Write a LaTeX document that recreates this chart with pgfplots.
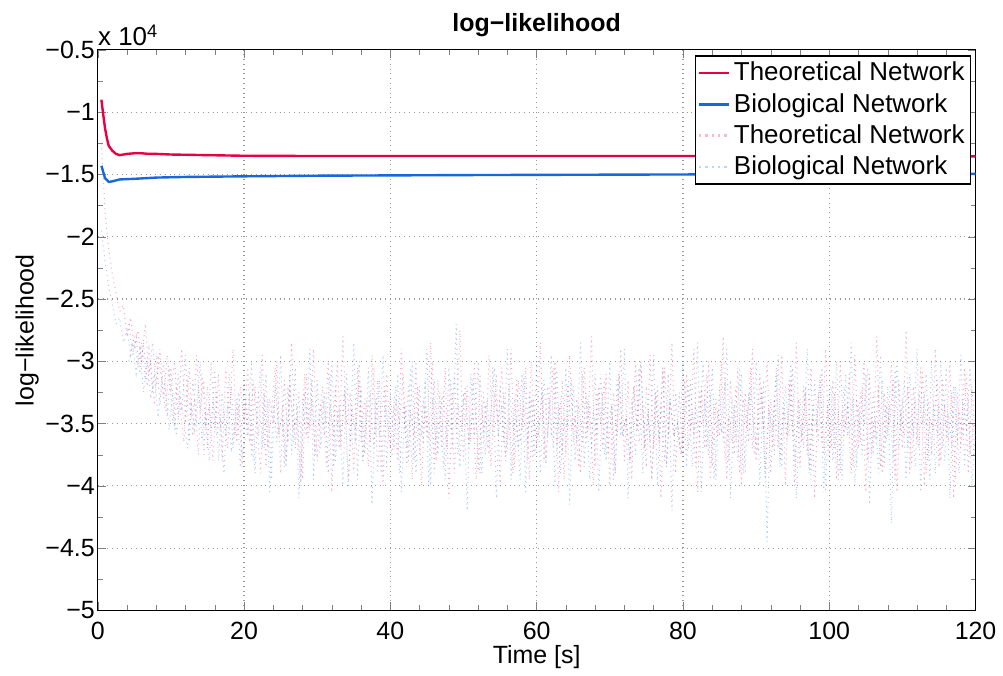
\documentclass[border=0pt]{standalone}
\usepackage{fontspec}
\setmainfont{Liberation Sans}
\usepackage{pgfplots}
\pgfplotsset{compat=1.18}

\definecolor{thred}{RGB}{232,0,68}
\definecolor{bioblue}{RGB}{22,104,220}
\definecolor{thnoise}{RGB}{240,60,110}
\definecolor{bionoise}{RGB}{70,135,235}
\newcommand{\f}{\fontsize{13}{15.5}\selectfont}
\newcommand{\tf}{\fontsize{12.5}{15}\selectfont}

\begin{document}
\begin{tikzpicture}
\begin{axis}[
    at={(0,0)}, anchor=south west,
    scale only axis,
    width=440pt, height=281pt,
    xmin=0, xmax=120, ymin=-5, ymax=-0.5,
    clip mode=individual,
    xtick={0,20,...,120},
    ytick={-5,-4.5,-4,-3.5,-3,-2.5,-2,-1.5,-1,-0.5},
    yticklabels={−5,−4.5,−4,−3.5,−3,−2.5,−2,−1.5,−1,−0.5},
    minor x tick num=4,
    minor y tick num=1,
    tick align=inside,
    major tick length=4pt,
    minor tick length=2.5pt,
    grid=major,
    major grid style={dotted, gray!80, line width=0.6pt},
    axis line style={line width=0.6pt},
    /pgf/number format/assume math mode=true,
    tick label style={font=\tf},
    xticklabel style={yshift=-2.5pt},
    yticklabel style={xshift=2pt},
    label style={font=\tf},
    xlabel={Time [s]},
    ylabel={log−likelihood},
    xlabel style={yshift=4pt},
    ylabel style={yshift=-3.5pt},
    title={\textbf{log−likelihood}},
    title style={font=\tf, yshift=-3pt},
    legend style={at={(0.995,0.99)}, anchor=north east, draw=black,
      font=\f, inner sep=1pt, row sep=0.8pt, cells={anchor=west},
      line width=0.6pt},
    legend image post style={line width=1.2pt},
    legend image code/.code={\draw[#1] (0pt,0pt) -- (15pt,0pt);},
]
% noisy samples, theoretical
\addplot[thnoise, opacity=0.45, dotted, line width=0.5pt, forget plot] coordinates {
(0.5,-1.25) (1,-1.8) (1.5,-2.1) (2,-2.3) (2.5,-2.45) (3,-2.6) (3.5,-2.55) (4,-2.8) (4.5,-2.65) (5,-2.9)
(5.5,-2.75) (6,-3.0) (6.5,-2.7) (7,-3.1) (7.5,-2.85) (8,-3.2) (8.5,-2.9) (9,-3.3) (9.5,-2.95) (10,-3.25)
(10.5,-3.0) (11,-3.45) (11.5,-2.9) (12,-3.5) (12.5,-3.05) (13,-3.6) (13.5,-2.95) (14,-3.4) (14.5,-3.15) (15,-3.7)
(15.5,-3.0) (16,-3.55) (16.5,-3.1) (17,-3.8) (17.5,-3.05) (18,-3.45) (18.5,-2.9) (19,-3.65) (19.5,-3.2) (20,-3.5)
(20.5,-3.05) (21,-3.75) (21.5,-3.2) (22,-3.6) (22.5,-2.95) (23,-3.85) (23.5,-3.3) (24,-3.5) (24.5,-3.0) (25,-3.9)
(25.5,-3.15) (26,-3.65) (26.5,-2.85) (27,-3.7) (27.5,-3.25) (28,-3.95) (28.5,-3.1) (29,-3.55) (29.5,-2.9) (30,-3.8)
(30.5,-3.35) (31,-3.6) (31.5,-3.0) (32,-4.05) (32.5,-3.2) (33,-3.7) (33.5,-2.8) (34,-3.5) (34.5,-3.25) (35,-3.9)
(35.5,-3.05) (36,-3.65) (36.5,-3.3) (37,-3.85) (37.5,-2.95) (38,-3.6) (38.5,-3.15) (39,-4.0) (39.5,-3.1) (40,-3.7)
(40.5,-3.35) (41,-3.8) (41.5,-2.9) (42,-3.55) (42.5,-3.2) (43,-3.95) (43.5,-3.0) (44,-3.75) (44.5,-3.3) (45,-3.6)
(45.5,-2.85) (46,-3.9) (46.5,-3.15) (47,-3.7) (47.5,-3.05) (48,-4.1) (48.5,-3.25) (49,-3.55) (49.5,-2.75) (50,-3.8)
(50.5,-3.2) (51,-3.65) (51.5,-3.0) (52,-3.9) (52.5,-3.35) (53,-3.75) (53.5,-2.95) (54,-3.6) (54.5,-3.1) (55,-4.0)
(55.5,-3.25) (56,-3.7) (56.5,-2.9) (57,-3.85) (57.5,-3.15) (58,-3.55) (58.5,-3.05) (59,-3.95) (59.5,-3.3) (60,-3.7)
(60.5,-2.85) (61,-3.8) (61.5,-3.2) (62,-3.6) (62.5,-3.0) (63,-4.05) (63.5,-3.15) (64,-3.75) (64.5,-2.95) (65,-3.65)
(65.5,-3.3) (66,-3.9) (66.5,-3.05) (67,-3.55) (67.5,-2.8) (68,-3.85) (68.5,-3.2) (69,-3.7) (69.5,-3.1) (70,-4.0)
(70.5,-3.25) (71,-3.6) (71.5,-2.9) (72,-3.8) (72.5,-3.15) (73,-3.95) (73.5,-3.0) (74,-3.65) (74.5,-3.35) (75,-3.85)
(75.5,-2.95) (76,-3.7) (76.5,-3.2) (77,-4.1) (77.5,-3.05) (78,-3.6) (78.5,-2.85) (79,-3.9) (79.5,-3.25) (80,-3.75)
(80.5,-3.1) (81,-3.55) (81.5,-2.9) (82,-4.05) (82.5,-3.2) (83,-3.7) (83.5,-3.0) (84,-3.85) (84.5,-3.3) (85,-3.6)
(85.5,-2.8) (86,-3.95) (86.5,-3.15) (87,-3.75) (87.5,-3.05) (88,-4.0) (88.5,-3.25) (89,-3.65) (89.5,-2.9) (90,-3.8)
(90.5,-3.1) (91,-3.55) (91.5,-3.0) (92,-3.9) (92.5,-3.3) (93,-3.7) (93.5,-2.95) (94,-4.0) (94.5,-3.15) (95,-3.6)
(95.5,-2.85) (96,-3.85) (96.5,-3.2) (97,-3.75) (97.5,-3.05) (98,-4.1) (98.5,-3.25) (99,-3.65) (99.5,-2.9) (100,-3.8)
(100.5,-3.15) (101,-3.95) (101.5,-3.0) (102,-3.6) (102.5,-3.35) (103,-3.9) (103.5,-2.95) (104,-3.7) (104.5,-3.2) (105,-4.05)
(105.5,-3.1) (106,-3.75) (106.5,-2.8) (107,-3.85) (107.5,-3.25) (108,-3.6) (108.5,-3.0) (109,-3.95) (109.5,-3.15) (110,-3.7)
(110.5,-2.75) (111,-3.9) (111.5,-3.2) (112,-3.65) (112.5,-3.05) (113,-4.0) (113.5,-3.3) (114,-3.75) (114.5,-2.9) (115,-3.85)
(115.5,-3.15) (116,-3.6) (116.5,-3.0) (117,-4.1) (117.5,-3.25) (118,-3.7) (118.5,-3.05) (119,-3.9) (119.5,-3.2) (120,-3.65)
};
\addplot[thnoise, opacity=0.45, dotted, line width=0.5pt, forget plot] coordinates {
(4.25,-2.7) (4.75,-2.95) (5.25,-2.8) (5.75,-3.1) (6.25,-2.85) (6.75,-3.2) (7.25,-3.0) (7.75,-3.35) (8.25,-2.95) (8.75,-3.15)
(9.25,-3.4) (9.75,-3.05) (10.25,-3.5) (10.75,-3.2) (11.25,-3.35) (11.75,-3.65) (12.25,-3.15) (12.75,-3.45) (13.25,-3.3) (13.75,-3.75)
(14.25,-3.1) (14.75,-3.5) (15.25,-3.35) (15.75,-3.8) (16.25,-3.25) (16.75,-3.55) (17.25,-3.4) (17.75,-3.7) (18.25,-3.2) (18.75,-3.6)
(19.25,-3.35) (19.75,-3.85)
(20.25,-3.3) (20.75,-3.65) (21.25,-3.15) (21.75,-3.5) (22.25,-3.9) (22.75,-3.25) (23.25,-3.7) (23.75,-3.4) (24.25,-3.05) (24.75,-3.6)
(25.25,-3.35) (25.75,-3.8) (26.25,-3.2) (26.75,-3.55) (27.25,-3.45) (27.75,-3.95) (28.25,-3.1) (28.75,-3.65) (29.25,-3.3) (29.75,-3.75)
(30.25,-3.45) (30.75,-3.2) (31.25,-3.85) (31.75,-3.35) (32.25,-3.6) (32.75,-3.0) (33.25,-3.7) (33.75,-3.25) (34.25,-3.95) (34.75,-3.4)
(35.25,-3.55) (35.75,-3.15) (36.25,-3.8) (36.75,-3.3) (37.25,-3.65) (37.75,-3.05) (38.25,-3.9) (38.75,-3.45) (39.25,-3.2) (39.75,-3.6)
(40.25,-3.75) (40.75,-3.3) (41.25,-3.5) (41.75,-3.1) (42.25,-3.85) (42.75,-3.4) (43.25,-3.6) (43.75,-3.2) (44.25,-4.0) (44.75,-3.35)
(45.25,-3.65) (45.75,-3.0) (46.25,-3.8) (46.75,-3.45) (47.25,-3.25) (47.75,-3.7) (48.25,-3.15) (48.75,-3.9) (49.25,-3.35) (49.75,-3.55)
(50.25,-3.2) (50.75,-3.7) (51.25,-3.4) (51.75,-3.95) (52.25,-3.1) (52.75,-3.6) (53.25,-3.3) (53.75,-3.85) (54.25,-3.25) (54.75,-3.5)
(55.25,-3.05) (55.75,-3.75) (56.25,-3.45) (56.75,-3.9) (57.25,-3.15) (57.75,-3.65) (58.25,-3.35) (58.75,-3.8) (59.25,-3.0) (59.75,-3.55)
(60.25,-3.6) (60.75,-3.25) (61.25,-3.8) (61.75,-3.4) (62.25,-3.05) (62.75,-3.7) (63.25,-3.3) (63.75,-3.95) (64.25,-3.2) (64.75,-3.55)
(65.25,-3.45) (65.75,-3.85) (66.25,-3.1) (66.75,-3.65) (67.25,-3.35) (67.75,-4.0) (68.25,-3.25) (68.75,-3.5) (69.25,-3.15) (69.75,-3.75)
(70.25,-3.35) (70.75,-3.9) (71.25,-3.1) (71.75,-3.6) (72.25,-3.45) (72.75,-3.8) (73.25,-3.2) (73.75,-3.55) (74.25,-3.0) (74.75,-3.7)
(75.25,-3.4) (75.75,-3.95) (76.25,-3.25) (76.75,-3.65) (77.25,-3.05) (77.75,-3.85) (78.25,-3.3) (78.75,-3.6) (79.25,-3.5) (79.75,-3.75)
(80.25,-3.15) (80.75,-3.7) (81.25,-3.4) (81.75,-3.85) (82.25,-3.25) (82.75,-3.5) (83.25,-3.1) (83.75,-3.95) (84.25,-3.35) (84.75,-3.6)
(85.25,-3.0) (85.75,-3.8) (86.25,-3.45) (86.75,-3.65) (87.25,-3.2) (87.75,-3.9) (88.25,-3.3) (88.75,-3.55) (89.25,-3.05) (89.75,-3.75)
(90.25,-3.5) (90.75,-3.2) (91.25,-3.9) (91.75,-3.35) (92.25,-3.7) (92.75,-3.05) (93.25,-3.8) (93.75,-3.4) (94.25,-3.6) (94.75,-3.15)
(95.25,-4.0) (95.75,-3.3) (96.25,-3.65) (96.75,-3.25) (97.25,-3.85) (97.75,-3.45) (98.25,-3.55) (98.75,-3.1) (99.25,-3.75) (99.75,-3.35)
(100.25,-3.7) (100.75,-3.25) (101.25,-3.95) (101.75,-3.4) (102.25,-3.55) (102.75,-3.1) (103.25,-3.85) (103.75,-3.3) (104.25,-3.65) (104.75,-3.0)
(105.25,-3.8) (105.75,-3.45) (106.25,-3.6) (106.75,-3.2) (107.25,-3.9) (107.75,-3.35) (108.25,-3.5) (108.75,-3.15) (109.25,-4.05) (109.75,-3.4)
(110.25,-3.6) (110.75,-3.2) (111.25,-3.85) (111.75,-3.3) (112.25,-3.7) (112.75,-3.05) (113.25,-3.9) (113.75,-3.45) (114.25,-3.55) (114.75,-3.15)
(115.25,-3.8) (115.75,-3.35) (116.25,-3.65) (116.75,-3.25) (117.25,-3.95) (117.75,-3.4) (118.25,-3.6) (118.75,-3.1) (119.25,-3.75) (119.75,-3.5)
};
% noisy samples, biological
\addplot[bionoise, opacity=0.45, dotted, line width=0.5pt, forget plot] coordinates {
(0.5,-1.95) (1,-2.2) (1.5,-2.4) (2,-2.55) (2.5,-2.7) (3,-2.65) (3.5,-2.85) (4,-2.75) (4.5,-2.95) (5,-2.8)
(5.5,-3.05) (6,-2.85) (6.5,-3.15) (7,-2.9) (7.5,-3.25) (8,-2.95) (8.5,-3.35) (9,-3.0) (9.5,-3.45) (10,-3.05)
(10.5,-3.55) (11,-3.1) (11.5,-3.4) (12,-2.95) (12.5,-3.65) (13,-3.15) (13.5,-3.5) (14,-3.0) (14.5,-3.75) (15,-3.2)
(15.5,-3.55) (16,-3.05) (16.5,-3.8) (17,-3.25) (17.5,-3.6) (18,-3.1) (18.5,-3.7) (19,-3.3) (19.5,-3.85) (20,-3.15)
(20.5,-3.6) (21,-3.0) (21.5,-3.9) (22,-3.25) (22.5,-3.7) (23,-3.1) (23.5,-4.05) (24,-3.35) (24.5,-3.65) (25,-2.95)
(25.5,-3.85) (26,-3.2) (26.5,-3.75) (27,-3.05) (27.5,-4.1) (28,-3.3) (28.5,-3.6) (29,-2.9) (29.5,-3.95) (30,-3.15)
(30.5,-3.7) (31,-3.25) (31.5,-3.9) (32,-3.0) (32.5,-3.8) (33,-3.35) (33.5,-4.0) (34,-3.1) (34.5,-3.65) (35,-2.85)
(35.5,-3.95) (36,-3.2) (36.5,-3.75) (37,-3.05) (37.5,-4.15) (38,-3.3) (38.5,-3.6) (39,-2.95) (39.5,-3.85) (40,-3.25)
(40.5,-3.7) (41,-3.1) (41.5,-4.05) (42,-3.35) (42.5,-3.8) (43,-3.0) (43.5,-3.9) (44,-3.2) (44.5,-3.65) (45,-2.9)
(45.5,-4.0) (46,-3.15) (46.5,-3.75) (47,-3.3) (47.5,-3.95) (48,-3.05) (48.5,-3.7) (49,-2.7) (49.5,-3.85) (50,-3.25)
(50.5,-4.2) (51,-3.1) (51.5,-3.6) (52,-3.0) (52.5,-3.9) (53,-3.35) (53.5,-3.75) (54,-3.05) (54.5,-4.1) (55,-3.2)
(55.5,-3.65) (56,-2.9) (56.5,-3.95) (57,-3.3) (57.5,-3.7) (58,-3.1) (58.5,-4.05) (59,-3.25) (59.5,-3.8) (60,-3.0)
(60.5,-3.9) (61,-3.15) (61.5,-3.6) (62,-2.95) (62.5,-4.0) (63,-3.35) (63.5,-3.75) (64,-3.05) (64.5,-4.15) (65,-3.2)
(65.5,-3.65) (66,-2.85) (66.5,-3.85) (67,-3.3) (67.5,-3.7) (68,-3.1) (68.5,-4.05) (69,-3.25) (69.5,-3.8) (70,-3.0)
(70.5,-3.95) (71,-3.15) (71.5,-3.6) (72,-2.9) (72.5,-4.1) (73,-3.3) (73.5,-3.75) (74,-3.05) (74.5,-3.9) (75,-3.2)
(75.5,-3.65) (76,-2.95) (76.5,-4.0) (77,-3.35) (77.5,-3.8) (78,-3.1) (78.5,-4.2) (79,-3.25) (79.5,-3.7) (80,-3.0)
(80.5,-3.85) (81,-3.15) (81.5,-3.6) (82,-2.85) (82.5,-4.05) (83,-3.3) (83.5,-3.75) (84,-3.05) (84.5,-3.95) (85,-3.2)
(85.5,-3.65) (86,-2.9) (86.5,-4.1) (87,-3.35) (87.5,-3.8) (88,-3.1) (88.5,-3.9) (89,-3.25) (89.5,-3.7) (90,-3.0)
(90.5,-4.0) (91,-3.15) (91.5,-4.45) (92,-3.3) (92.5,-3.75) (93,-2.95) (93.5,-3.85) (94,-3.2) (94.5,-3.6) (95,-3.05)
(95.5,-4.1) (96,-3.3) (96.5,-3.7) (97,-2.9) (97.5,-3.95) (98,-3.15) (98.5,-3.65) (99,-3.05) (99.5,-4.05) (100,-3.25)
(100.5,-3.8) (101,-3.0) (101.5,-3.9) (102,-3.2) (102.5,-3.6) (103,-2.85) (103.5,-4.0) (104,-3.35) (104.5,-3.75) (105,-3.1)
(105.5,-4.15) (106,-3.25) (106.5,-3.65) (107,-2.95) (107.5,-3.85) (108,-3.2) (108.5,-4.3) (109,-3.05) (109.5,-3.7) (110,-3.3)
(110.5,-3.95) (111,-3.1) (111.5,-3.6) (112,-2.9) (112.5,-4.05) (113,-3.25) (113.5,-3.8) (114,-3.0) (114.5,-3.9) (115,-3.35)
(115.5,-3.7) (116,-3.05) (116.5,-4.1) (117,-3.2) (117.5,-3.65) (118,-2.95) (118.5,-3.85) (119,-3.3) (119.5,-4.0) (120,-3.55)
};
\addplot[bionoise, opacity=0.45, dotted, line width=0.5pt, forget plot] coordinates {
(4.25,-3.0) (4.75,-2.85) (5.25,-3.1) (5.75,-2.9) (6.25,-3.25) (6.75,-3.0) (7.25,-3.3) (7.75,-3.1) (8.25,-3.45) (8.75,-3.15)
(9.25,-3.2) (9.75,-3.55) (10.25,-3.25) (10.75,-3.6) (11.25,-3.3) (11.75,-3.45) (12.25,-3.7) (12.75,-3.35) (13.25,-3.55) (13.75,-3.2)
(14.25,-3.65) (14.75,-3.4) (15.25,-3.8) (15.75,-3.3) (16.25,-3.6) (16.75,-3.45) (17.25,-3.9) (17.75,-3.35) (18.25,-3.7) (18.75,-3.5)
(19.25,-3.25) (19.75,-3.75)
(20.25,-3.6) (20.75,-3.25) (21.25,-3.8) (21.75,-3.4) (22.25,-3.05) (22.75,-3.7) (23.25,-3.3) (23.75,-3.95) (24.25,-3.2) (24.75,-3.55)
(25.25,-3.45) (25.75,-3.85) (26.25,-3.1) (26.75,-3.65) (27.25,-3.35) (27.75,-4.0) (28.25,-3.25) (28.75,-3.5) (29.25,-3.15) (29.75,-3.75)
(30.25,-3.75) (30.75,-3.3) (31.25,-3.5) (31.75,-3.1) (32.25,-3.85) (32.75,-3.4) (33.25,-3.6) (33.75,-3.2) (34.25,-4.0) (34.75,-3.35)
(35.25,-3.65) (35.75,-3.0) (36.25,-3.8) (36.75,-3.45) (37.25,-3.25) (37.75,-3.7) (38.25,-3.15) (38.75,-3.9) (39.25,-3.35) (39.75,-3.55)
(40.25,-3.5) (40.75,-3.2) (41.25,-3.9) (41.75,-3.35) (42.25,-3.7) (42.75,-3.05) (43.25,-3.8) (43.75,-3.4) (44.25,-3.6) (44.75,-3.15)
(45.25,-4.0) (45.75,-3.3) (46.25,-3.65) (46.75,-3.25) (47.25,-3.85) (47.75,-3.45) (48.25,-3.55) (48.75,-3.1) (49.25,-3.75) (49.75,-3.35)
(50.25,-3.3) (50.75,-3.65) (51.25,-3.15) (51.75,-3.5) (52.25,-3.9) (52.75,-3.25) (53.25,-3.7) (53.75,-3.4) (54.25,-3.05) (54.75,-3.6)
(55.25,-3.35) (55.75,-3.8) (56.25,-3.2) (56.75,-3.55) (57.25,-3.45) (57.75,-3.95) (58.25,-3.1) (58.75,-3.65) (59.25,-3.3) (59.75,-3.75)
(60.25,-3.6) (60.75,-3.2) (61.25,-3.85) (61.75,-3.3) (62.25,-3.7) (62.75,-3.05) (63.25,-3.9) (63.75,-3.45) (64.25,-3.55) (64.75,-3.15)
(65.25,-3.8) (65.75,-3.35) (66.25,-3.65) (66.75,-3.25) (67.25,-3.95) (67.75,-3.4) (68.25,-3.6) (68.75,-3.1) (69.25,-3.75) (69.75,-3.5)
(70.25,-3.35) (70.75,-3.9) (71.25,-3.1) (71.75,-3.6) (72.25,-3.45) (72.75,-3.8) (73.25,-3.2) (73.75,-3.55) (74.25,-3.0) (74.75,-3.7)
(75.25,-3.4) (75.75,-3.95) (76.25,-3.25) (76.75,-3.65) (77.25,-3.05) (77.75,-3.85) (78.25,-3.3) (78.75,-3.6) (79.25,-3.5) (79.75,-3.75)
(80.25,-3.45) (80.75,-3.2) (81.25,-3.85) (81.75,-3.35) (82.25,-3.6) (82.75,-3.0) (83.25,-3.7) (83.75,-3.25) (84.25,-3.95) (84.75,-3.4)
(85.25,-3.55) (85.75,-3.15) (86.25,-3.8) (86.75,-3.3) (87.25,-3.65) (87.75,-3.05) (88.25,-3.9) (88.75,-3.45) (89.25,-3.2) (89.75,-3.6)
(90.25,-3.7) (90.75,-3.25) (91.25,-3.95) (91.75,-3.4) (92.25,-3.55) (92.75,-3.1) (93.25,-3.85) (93.75,-3.3) (94.25,-3.65) (94.75,-3.0)
(95.25,-3.8) (95.75,-3.45) (96.25,-3.6) (96.75,-3.2) (97.25,-3.9) (97.75,-3.35) (98.25,-3.5) (98.75,-3.15) (99.25,-4.05) (99.75,-3.4)
(100.25,-3.2) (100.75,-3.7) (101.25,-3.4) (101.75,-3.95) (102.25,-3.1) (102.75,-3.6) (103.25,-3.3) (103.75,-3.85) (104.25,-3.25) (104.75,-3.5)
(105.25,-3.05) (105.75,-3.75) (106.25,-3.45) (106.75,-3.9) (107.25,-3.15) (107.75,-3.65) (108.25,-3.35) (108.75,-3.8) (109.25,-3.0) (109.75,-3.55)
(110.25,-3.15) (110.75,-3.7) (111.25,-3.4) (111.75,-3.85) (112.25,-3.25) (112.75,-3.5) (113.25,-3.1) (113.75,-3.95) (114.25,-3.35) (114.75,-3.6)
(115.25,-3.0) (115.75,-3.8) (116.25,-3.45) (116.75,-3.65) (117.25,-3.2) (117.75,-3.9) (118.25,-3.3) (118.75,-3.55) (119.25,-3.05) (119.75,-3.75)
};
% smoothed curves
\addplot[thred, line width=1.2pt] coordinates {
(0.5,-0.9) (0.75,-1.02) (1,-1.13) (1.25,-1.21) (1.5,-1.27) (2,-1.31) (2.5,-1.335) (3,-1.345)
(3.5,-1.34) (4,-1.335) (5,-1.33) (6,-1.33) (7,-1.335) (8,-1.335) (10,-1.34) (15,-1.345)
(20,-1.35) (30,-1.352) (40,-1.352) (60,-1.352) (80,-1.352) (100,-1.353) (120,-1.355)
};
\addplot[bioblue, line width=1.2pt] coordinates {
(0.5,-1.43) (0.75,-1.48) (1,-1.53) (1.5,-1.56) (2,-1.555) (3,-1.54) (5,-1.535) (8,-1.525)
(12,-1.52) (20,-1.515) (30,-1.51) (50,-1.505) (80,-1.5) (120,-1.495)
};
\addlegendimage{thnoise, opacity=0.35, dotted}
\addlegendimage{bionoise, opacity=0.35, dotted}
\legend{Theoretical Network, Biological Network, Theoretical Network, Biological Network}
\node[anchor=base west, inner sep=0pt, font=\f] at (rel axis cs:0,1) [yshift=2pt] {x 10\textsuperscript{4}};
\end{axis}
\path (-49pt,-30.5pt) rectangle (452.5pt,306pt);
\end{tikzpicture}
\end{document}
